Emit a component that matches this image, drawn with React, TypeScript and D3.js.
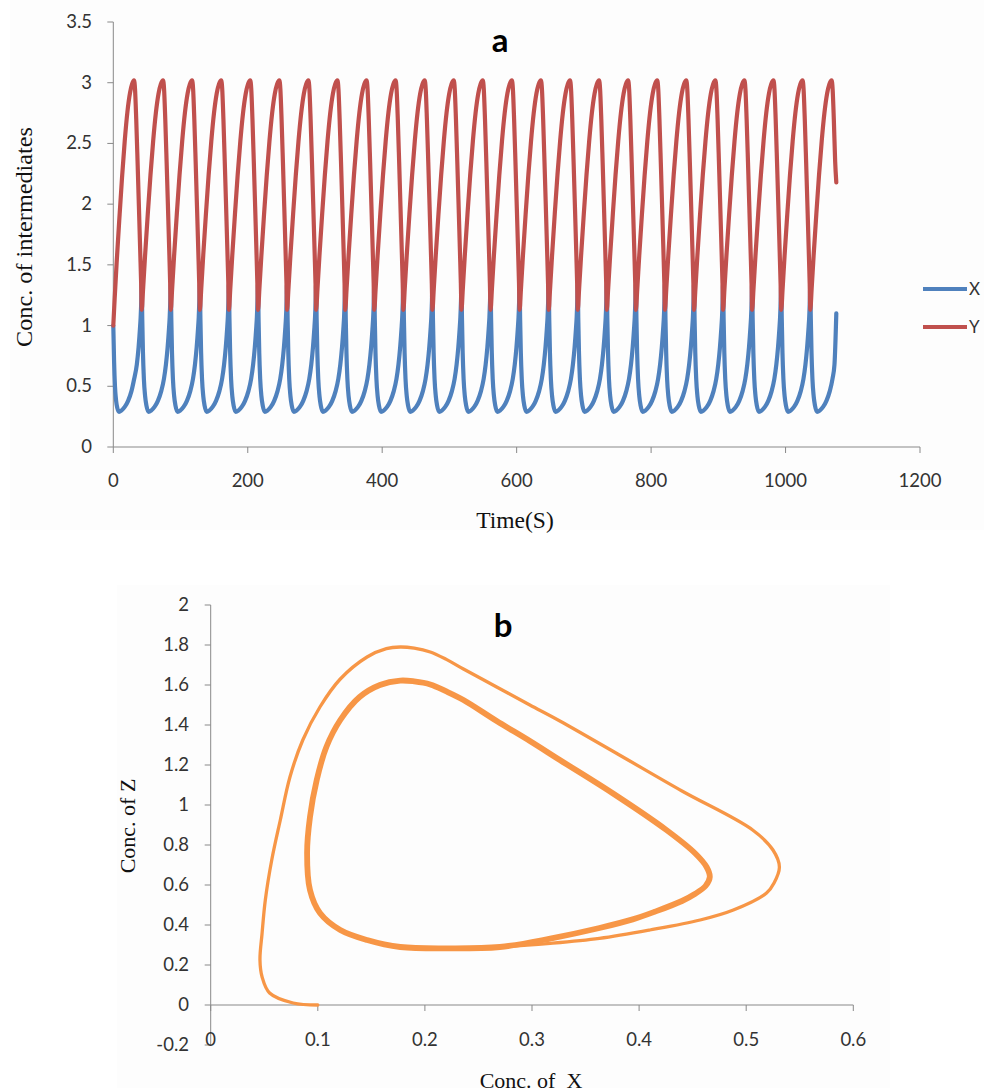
import React from "react";
import * as d3 from "d3";

// ---------- Panel a : time series ----------
const timeTicks = [0, 200, 400, 600, 800, 1000, 1200];
const concTicks = [0, 0.5, 1, 1.5, 2, 2.5, 3, 3.5];
const seriesNames = ["X", "Y"];

// first partial cycle (t = 0 .. first trough)
const xStartT = [0, 1.2, 2.5, 4.2, 6, 8.5, 12, 17, 22, 27, 31, 35, 37.6, 39.6, 40.7, 41.6];
const xStartV = [1.0, 0.7, 0.5, 0.38, 0.32, 0.29, 0.3, 0.33, 0.38, 0.46, 0.56, 0.68, 0.82, 0.97, 1.07, 1.2];
const yStartT = [0, 2, 5, 9, 13, 17, 21, 25, 28, 30.8, 32.3, 34.1, 36.1, 38.1, 40.1, 41.4];
const yStartV = [1.0, 1.22, 1.52, 1.88, 2.22, 2.52, 2.76, 2.92, 2.99, 3.02, 2.95, 2.7, 2.35, 1.98, 1.6, 1.35];

// times of the Y troughs / X spikes
const troughTimes = [42.3, 85.5, 128.8, 172.0, 215.3, 258.5, 301.7, 345.0, 388.2, 431.5, 474.7, 517.9,
  561.2, 604.4, 647.7, 690.9, 734.1, 777.4, 820.6, 863.9, 907.1, 950.3, 993.6, 1036.8];

// one oscillation (offsets in s from a trough)
const xCycleOff = [0, 0.8, 1.8, 3.2, 5, 7, 10, 14, 19, 24, 29, 33, 36, 38.5, 40.5, 41.6, 42.5];
const xCycleVal = [1.35, 1.05, 0.78, 0.56, 0.42, 0.34, 0.29, 0.3, 0.33, 0.38, 0.46, 0.56, 0.68, 0.82, 0.97, 1.07, 1.2];
const yCycleOff = [0, 2, 5, 9, 13, 17, 21, 25, 28.5, 31.7, 33.2, 35, 37, 39, 41, 42.3];
const yCycleVal = [1.13, 1.3, 1.58, 1.92, 2.24, 2.52, 2.75, 2.91, 2.99, 3.02, 2.95, 2.7, 2.35, 1.98, 1.6, 1.35];

// last recorded sample
const endTime = 1075.5;
const xEnd = 1.1;
const yEnd = 2.18;

// ---------- Panel b : phase portrait ----------
const xTicksB = [0, 0.1, 0.2, 0.3, 0.4, 0.5, 0.6];
const zTicksB = [-0.2, 0, 0.2, 0.4, 0.6, 0.8, 1, 1.2, 1.4, 1.6, 1.8, 2];

const transientX = [0.1, 0.077, 0.055, 0.048, 0.046, 0.048, 0.051, 0.057, 0.065, 0.074, 0.086, 0.102, 0.121,
  0.146, 0.164, 0.177, 0.19, 0.205, 0.22, 0.236, 0.267, 0.298, 0.326, 0.38, 0.44, 0.506, 0.525, 0.531, 0.526, 0.519,
  0.488, 0.457, 0.41, 0.363, 0.317, 0.27, 0.22];
const transientZ = [0.0, 0.01, 0.06, 0.14, 0.225, 0.36, 0.525, 0.725, 0.925, 1.14, 1.325, 1.49, 1.63,
  1.74, 1.782, 1.79, 1.784, 1.765, 1.728, 1.68, 1.59, 1.5, 1.42, 1.255, 1.07, 0.875, 0.775, 0.69, 0.61, 0.56,
  0.475, 0.425, 0.375, 0.333, 0.308, 0.29, 0.283];

const limitX = [0.27, 0.22, 0.177, 0.146, 0.121, 0.102, 0.0927, 0.09, 0.0927, 0.099, 0.108, 0.121, 0.139,
  0.158, 0.177, 0.19, 0.205, 0.22, 0.236, 0.267, 0.298, 0.326, 0.375, 0.4255, 0.452, 0.463, 0.466, 0.462,
  0.452, 0.44, 0.415, 0.394, 0.363, 0.317];
const limitZ = [0.29, 0.283, 0.29, 0.325, 0.375, 0.46, 0.575, 0.76, 0.94, 1.125, 1.29, 1.425, 1.54,
  1.6, 1.622, 1.618, 1.603, 1.568, 1.525, 1.42, 1.32, 1.225, 1.06, 0.875, 0.76, 0.69, 0.64, 0.595,
  0.555, 0.52, 0.467, 0.428, 0.385, 0.332];

const COLORS = { X: "#4F81BD", Y: "#C0504D", orbit: "#F79646" };
const AXIS = "#898989";
const TICKFONT = "Lato, 'Open Sans', sans-serif";
const SERIF = "'Liberation Serif', 'DejaVu Serif', serif";

function buildSeries(
  startT: number[], startV: number[], off: number[], val: number[], cutoff: number, endV: number
): [number, number][] {
  const pts: [number, number][] = startT.map((t, i) => [t, startV[i]]);
  troughTimes.forEach((t0) => {
    off.forEach((o, i) => {
      const t = t0 + o;
      if (t < cutoff) pts.push([t, val[i]]);
    });
  });
  pts.push([endTime, endV]);
  return pts;
}

export default function App() {
  // panel a scales
  const xa = d3.scaleLinear().domain([0, 1200]).range([113.3, 920]);
  const ya = d3.scaleLinear().domain([0, 3.5]).range([447, 22]);
  const lineA = d3.line<[number, number]>().x((d) => xa(d[0])).y((d) => ya(d[1])).curve(d3.curveMonotoneX);

  const xSeries = buildSeries(xStartT, xStartV, xCycleOff, xCycleVal, endTime - 1.5, xEnd);
  const ySeries = buildSeries(yStartT, yStartV, yCycleOff, yCycleVal, endTime - 1.2, yEnd);

  // panel b scales
  const xb = d3.scaleLinear().domain([0, 0.6]).range([210.7, 853.3]);
  const yb = d3.scaleLinear().domain([-0.2, 2]).range([1045, 605]);
  const transient: [number, number][] = transientX.map((x, i) => [x, transientZ[i]]);
  const limit: [number, number][] = limitX.map((x, i) => [x, limitZ[i]]);
  const lineB = d3.line<[number, number]>().x((d) => xb(d[0])).y((d) => yb(d[1])).curve(d3.curveCatmullRom.alpha(0.5));
  const loopB = d3.line<[number, number]>().x((d) => xb(d[0])).y((d) => yb(d[1])).curve(d3.curveCatmullRomClosed.alpha(0.5));

  return (
    <svg width={984} height={1092} style={{ position: "absolute", left: 0, top: 0, background: "#ffffff" }}>
      <rect x={10} y={0} width={974} height={530} fill="#fdfdfd" />
      <rect x={117} y={585} width={773} height={503} fill="#fdfdfd" />

      {/* ---------------- Panel a ---------------- */}
      <g>
        <line x1={xa(0)} x2={xa(0)} y1={ya(3.5)} y2={ya(0)} stroke={AXIS} strokeWidth={1} />
        <line x1={xa(0)} x2={xa(1200)} y1={ya(0)} y2={ya(0)} stroke={AXIS} strokeWidth={1} />
        {concTicks.map((v) => (
          <g key={"ya" + v}>
            <line x1={xa(0) - 6} x2={xa(0)} y1={ya(v)} y2={ya(v)} stroke={AXIS} />
            <text x={92} y={ya(v) + 6} textAnchor="end" fontFamily={TICKFONT} fontSize={18.5} fill="#333">
              {String(v)}
            </text>
          </g>
        ))}
        {timeTicks.map((v) => (
          <g key={"xa" + v}>
            <line x1={xa(v)} x2={xa(v)} y1={ya(0)} y2={ya(0) + 6} stroke={AXIS} />
            <text x={xa(v)} y={486.5} textAnchor="middle" fontFamily={TICKFONT} fontSize={18.5} fill="#333">
              {String(v)}
            </text>
          </g>
        ))}
        <path d={lineA(xSeries) || ""} fill="none" stroke={COLORS.X} strokeWidth={4.2} strokeLinejoin="round" strokeLinecap="round" />
        <path d={lineA(ySeries) || ""} fill="none" stroke={COLORS.Y} strokeWidth={4.2} strokeLinejoin="round" strokeLinecap="round" />

        <text x={500} y={52} textAnchor="middle" fontFamily={TICKFONT} fontWeight="bold" fontSize={33} fill="#000">a</text>

        <text x={515} y={528} textAnchor="middle" fontFamily={SERIF} fontSize={23.5} fill="#111">Time(S)</text>
        <text
          transform="translate(32,237) rotate(-90)"
          textAnchor="middle"
          fontFamily={SERIF}
          fontSize={24}
          fill="#111"
          textLength={220}
          lengthAdjust="spacingAndGlyphs"
        >
          Conc. of intermediates
        </text>

        {seriesNames.map((name, i) => (
          <g key={name}>
            <line x1={923} x2={967} y1={289 + i * 38} y2={289 + i * 38} stroke={i === 0 ? COLORS.X : COLORS.Y} strokeWidth={4} />
            <text x={969} y={289 + i * 38 + 6} fontFamily={TICKFONT} fontSize={17} fill="#333">{name}</text>
          </g>
        ))}
      </g>

      {/* ---------------- Panel b ---------------- */}
      <g>
        <line x1={xb(0)} x2={xb(0)} y1={yb(2)} y2={yb(-0.2)} stroke={AXIS} strokeWidth={1} />
        <line x1={xb(0)} x2={xb(0.6)} y1={yb(0)} y2={yb(0)} stroke={AXIS} strokeWidth={1} />
        {zTicksB.map((v) => (
          <g key={"yb" + v}>
            <line x1={xb(0) - 6} x2={xb(0)} y1={yb(v)} y2={yb(v)} stroke={AXIS} />
            <text x={189} y={yb(v) + 6} textAnchor="end" fontFamily={TICKFONT} fontSize={18.5} fill="#333">
              {String(v)}
            </text>
          </g>
        ))}
        {xTicksB.map((v) => (
          <g key={"xb" + v}>
            <line x1={xb(v)} x2={xb(v)} y1={yb(0)} y2={yb(0) + 6} stroke={AXIS} />
            <text x={xb(v)} y={1046} textAnchor="middle" fontFamily={TICKFONT} fontSize={18.5} fill="#333">
              {String(v)}
            </text>
          </g>
        ))}

        <path d={lineB(transient) || ""} fill="none" stroke={COLORS.orbit} strokeWidth={3.3} strokeLinecap="round" strokeLinejoin="round" />
        <path d={loopB(limit) || ""} fill="none" stroke={COLORS.orbit} strokeWidth={5.8} strokeLinejoin="round" />

        <text x={503} y={637} textAnchor="middle" fontFamily={TICKFONT} fontWeight="bold" fontSize={33} fill="#000">b</text>

        <text
          transform="translate(135,826) rotate(-90)"
          textAnchor="middle"
          fontFamily={SERIF}
          fontSize={22}
          fill="#111"
        >
          Conc. of Z
        </text>
        <text x={531} y={1088} textAnchor="middle" fontFamily={SERIF} fontSize={22} fill="#111" style={{ whiteSpace: "pre" }}>
          Conc. of  X
        </text>
      </g>
    </svg>
  );
}
